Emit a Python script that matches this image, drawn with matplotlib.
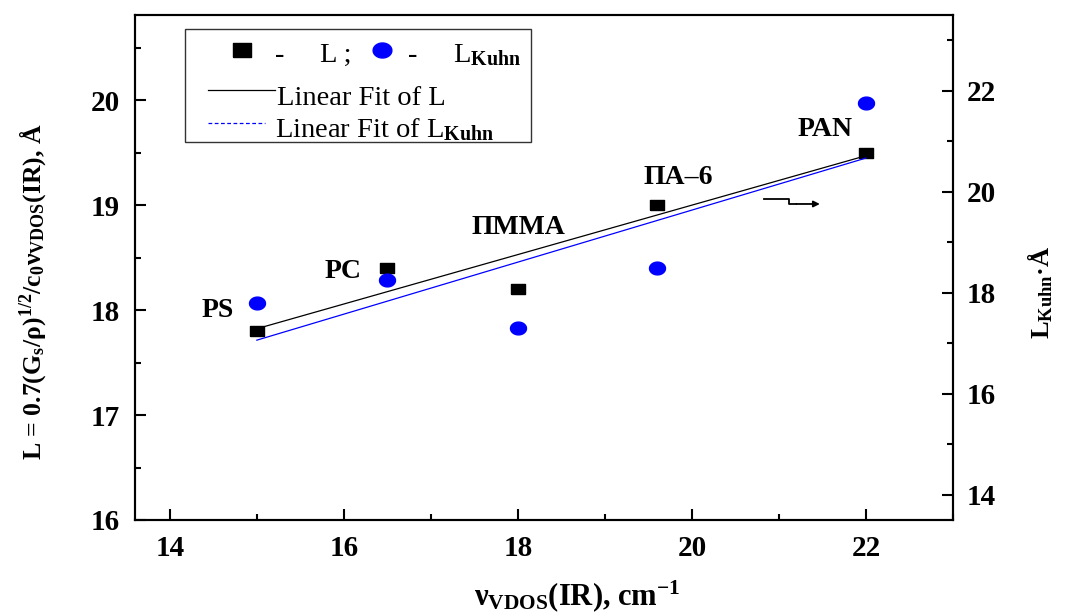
import numpy as np
import matplotlib
matplotlib.use('Agg')
import matplotlib.pyplot as plt
from matplotlib.ticker import MultipleLocator
from matplotlib.patches import Rectangle
from matplotlib.lines import Line2D

# ---------------- data ----------------
polymers = ['PS', 'PC', 'ΠMMA', 'ΠA–6', 'PAN']
nu_vdos = [15.0, 16.5, 18.0, 19.6, 22.0]          # cm^-1
L_values = [17.8, 18.4, 18.2, 19.0, 19.5]         # left axis, Å
L_kuhn = [17.8, 18.25, 17.3, 18.5, 21.75]         # right axis, Å
x_ticks = [14, 16, 18, 20, 22]
left_ticks = [16, 17, 18, 19, 20]
right_ticks = [14, 16, 18, 20, 22]

# label positions (data coords, left axis)
label_x = [14.55, 15.99, 18.01, 19.84, 21.53]
label_y = [18.0, 18.37, 18.79, 19.26, 19.72]
# axis-indicator arrow (data coords, left axis)
arrow_x = [20.83, 21.11, 21.11, 21.20]
arrow_y = [19.06, 19.06, 19.01, 19.01]
arrow_end = 21.47

plt.rcParams['font.family'] = ['Liberation Serif', 'DejaVu Serif']
plt.rcParams['font.weight'] = 'bold'
plt.rcParams['mathtext.fontset'] = 'custom'
plt.rcParams['mathtext.rm'] = 'Liberation Serif:bold'
plt.rcParams['mathtext.it'] = 'Liberation Serif:bold'
plt.rcParams['mathtext.bf'] = 'Liberation Serif:bold'
plt.rcParams['mathtext.default'] = 'rm'

fig = plt.figure(figsize=(10.73, 6.15), dpi=100)
ax = fig.add_axes([135/1073, 95/615, 818/1073, 505/615])
ax2 = ax.twinx()

# markers slightly wider than tall, as in the reference
t = np.linspace(0, 2*np.pi, 64)
ell = list(zip(1.25*np.cos(t), np.sin(t)))
rect = [(-1.27, -1), (1.27, -1), (1.27, 1), (-1.27, 1), (-1.27, -1)]

xs = np.array(nu_vdos)
pL = np.polyfit(xs, L_values, 1)
pK = np.polyfit(xs, L_kuhn, 1)
xf = np.array([min(nu_vdos), max(nu_vdos)])

ax.plot(xf, np.polyval(pL, xf), color='black', lw=0.9, zorder=2)
ax.plot(nu_vdos, L_values, linestyle='none', marker=rect, ms=10,
        color='black', zorder=3)
ax2.plot(xf, np.polyval(pK, xf), color='blue', lw=0.9, zorder=2)
ax2.plot(nu_vdos, L_kuhn, linestyle='none', marker=ell, ms=11.5,
         color='blue', zorder=3)

for name, lx, ly in zip(polymers, label_x, label_y):
    ax.text(lx, ly, name, ha='center', va='center', fontsize=20,
            fontweight='bold')

ax.plot(arrow_x, arrow_y, color='black', lw=1.3)
ax.annotate('', xy=(arrow_end, arrow_y[-1]), xytext=(arrow_x[-1], arrow_y[-1]),
            arrowprops=dict(arrowstyle='-|>', color='black', lw=1.3,
                            mutation_scale=9, shrinkA=0, shrinkB=0))

ax.set_xlim(13.6, 23.0)
ax.set_ylim(16, 20.81)
ax2.set_ylim(13.5, 23.5)
ax.set_xticks(x_ticks)
ax.set_yticks(left_ticks)
ax2.set_yticks(right_ticks)
ax.xaxis.set_minor_locator(MultipleLocator(1))
ax.yaxis.set_minor_locator(MultipleLocator(0.5))
ax2.yaxis.set_minor_locator(MultipleLocator(1))

ax.tick_params(axis='both', which='both', direction='in', width=1.5,
               labelsize=21, top=False, right=False)
ax.tick_params(which='major', length=8)
ax.tick_params(which='minor', length=4)
ax.tick_params(axis='y', pad=11)
ax.tick_params(axis='x', pad=11)
ax2.tick_params(axis='y', which='both', direction='in', width=1.5,
                labelsize=21, pad=10)
ax2.tick_params(which='major', length=8)
ax2.tick_params(which='minor', length=4)
for a in (ax, ax2):
    for s in a.spines.values():
        s.set_linewidth(1.5)

# axis labels
fig.text(0.030, 0.525,
         r'L = 0.7(G$_s$/ρ)$^{1/2}$/c$_0$ν$_{VDOS}$(IR), Å',
         rotation=90, ha='center', va='center', fontsize=18.5,
         fontweight='bold')
fig.text(0.969, 0.525, r'L$_{Kuhn}$·Å', rotation=90, ha='center',
         va='center', fontsize=19, fontweight='bold')
fig.text(0.538, 0.016, r'ν$_{VDOS}$(IR), cm$^{-1}$', ha='center',
         va='baseline', fontsize=22, fontweight='bold')

# legend, drawn by hand (row 1 mixes two symbols with text)
T = ax.transAxes
ax.add_patch(Rectangle((0.0611, 0.7485), 0.4230, 0.2238, transform=T,
                       facecolor='white', edgecolor='#333333', lw=1.0,
                       zorder=5))
ax.add_line(Line2D([0.1304], [0.9307], transform=T, marker=rect, ms=13,
                   color='black', linestyle='none', zorder=6))
ax.add_line(Line2D([0.3016], [0.9307], transform=T, marker=ell, ms=13.5,
                   color='blue', linestyle='none', zorder=6))
lf = dict(transform=T, fontsize=20.5, fontweight='normal', zorder=6,
          va='baseline')
ax.text(0.177, 0.907, '-', ha='center', **lf)
ax.text(0.226, 0.907, 'L ;', ha='left', **lf)
ax.text(0.340, 0.907, '-', ha='center', **lf)
ax.text(0.389, 0.907, r'L$_{Kuhn}$', ha='left', **lf)
ax.add_line(Line2D([0.0892, 0.1711], [0.8515, 0.8515], transform=T,
                   color='black', lw=0.9, zorder=6))
ax.text(0.1736, 0.8218, 'Linear Fit of L', ha='left', **lf)
ax.add_line(Line2D([0.0892, 0.159], [0.786, 0.786], transform=T,
                   color='blue', lw=0.9, linestyle=(0, (3, 2)), zorder=6))
ax.text(0.171, 0.759, r'Linear Fit of L$_{Kuhn}$', ha='left', **lf)

fig.savefig('out.png', dpi=100)
